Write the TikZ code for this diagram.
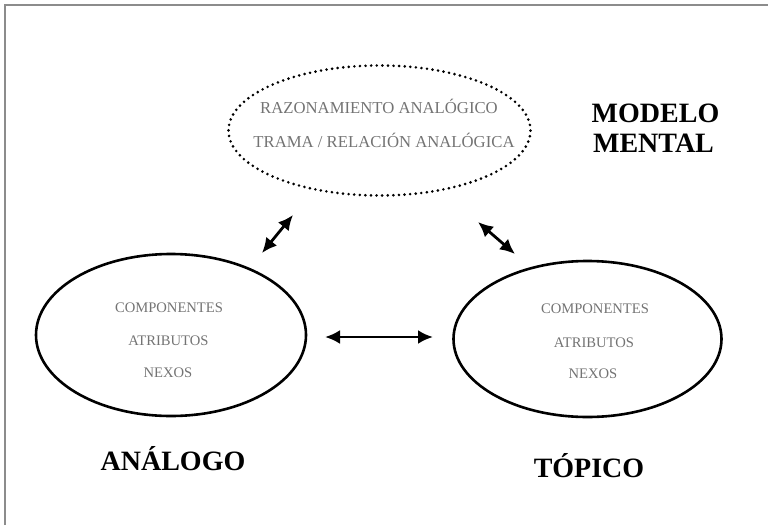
\documentclass[tikz,border=0pt]{standalone}
\usepackage{fontspec}
\setmainfont{Liberation Serif}
\usetikzlibrary{shapes.geometric,arrows.meta}
\begin{document}
\begin{tikzpicture}[x=1pt,y=-1pt,
  solidell/.style={draw,ellipse,line width=2.6pt,inner sep=0pt},
  dotell/.style={draw,ellipse,line width=2.9pt,dash pattern=on 0pt off 5.6pt,line cap=round,inner sep=0pt},
  innertxt/.style={text=black!55,font=\fontsize{14.6}{16}\selectfont,inner sep=0pt,anchor=base},
  toptxt/.style={text=black!55,font=\fontsize{16.7}{18}\selectfont,inner sep=0pt,anchor=base},
  bigtxt/.style={font=\fontsize{28}{30}\selectfont\bfseries,inner sep=0pt,anchor=base},
  dblarrow/.style={{Latex[length=15pt,width=14pt]}-{Latex[length=15pt,width=14pt]},line width=2.8pt},
  frameline/.style={draw=black!45,line width=2pt}
]
\useasboundingbox (0,0) rectangle (768,525);
\draw[frameline] (4.5,525) -- (4.5,4.5) -- (768,4.5);

% ellipses
\node[dotell,minimum width=302pt,minimum height=130pt] (mm) at (379.5,130.5) {};
\node[solidell,minimum width=270pt,minimum height=162pt] (an) at (171,335) {};
\node[solidell,minimum width=268pt,minimum height=156pt] (to) at (587.5,339) {};

% top texts
\node[toptxt] (raz) at (379,113.5) {RAZONAMIENTO ANALÓGICO};
\node[toptxt] (tra) at (384,147.5) {TRAMA / RELACIÓN ANALÓGICA};

% left texts
\node[innertxt] (lc) at (169,312) {COMPONENTES};
\node[innertxt] (la) at (168.5,345) {ATRIBUTOS};
\node[innertxt] (ln) at (168,377) {NEXOS};

% right texts
\node[innertxt] (rc) at (595,313) {COMPONENTES};
\node[innertxt] (ra) at (594,347) {ATRIBUTOS};
\node[innertxt] (rn) at (593,378) {NEXOS};

% labels
\node[bigtxt] (lab1) at (173,470) {ANÁLOGO};
\node[bigtxt] (lab2) at (589,477) {TÓPICO};
\node[bigtxt] (lab3) at (655.5,122) {MODELO};
\node[bigtxt] (lab4) at (653.5,152) {MENTAL};

% arrow ends
\coordinate (h1) at (325,337);
\coordinate (h2) at (433,337);
\coordinate (d1) at (262,253);
\coordinate (d2) at (293,215);
\coordinate (e1) at (478,222);
\coordinate (e2) at (515,254);
\draw[dblarrow] (h1) -- (h2);
\draw[dblarrow] (d1) -- (d2);
\draw[dblarrow] (e1) -- (e2);
\end{tikzpicture}
\end{document}
